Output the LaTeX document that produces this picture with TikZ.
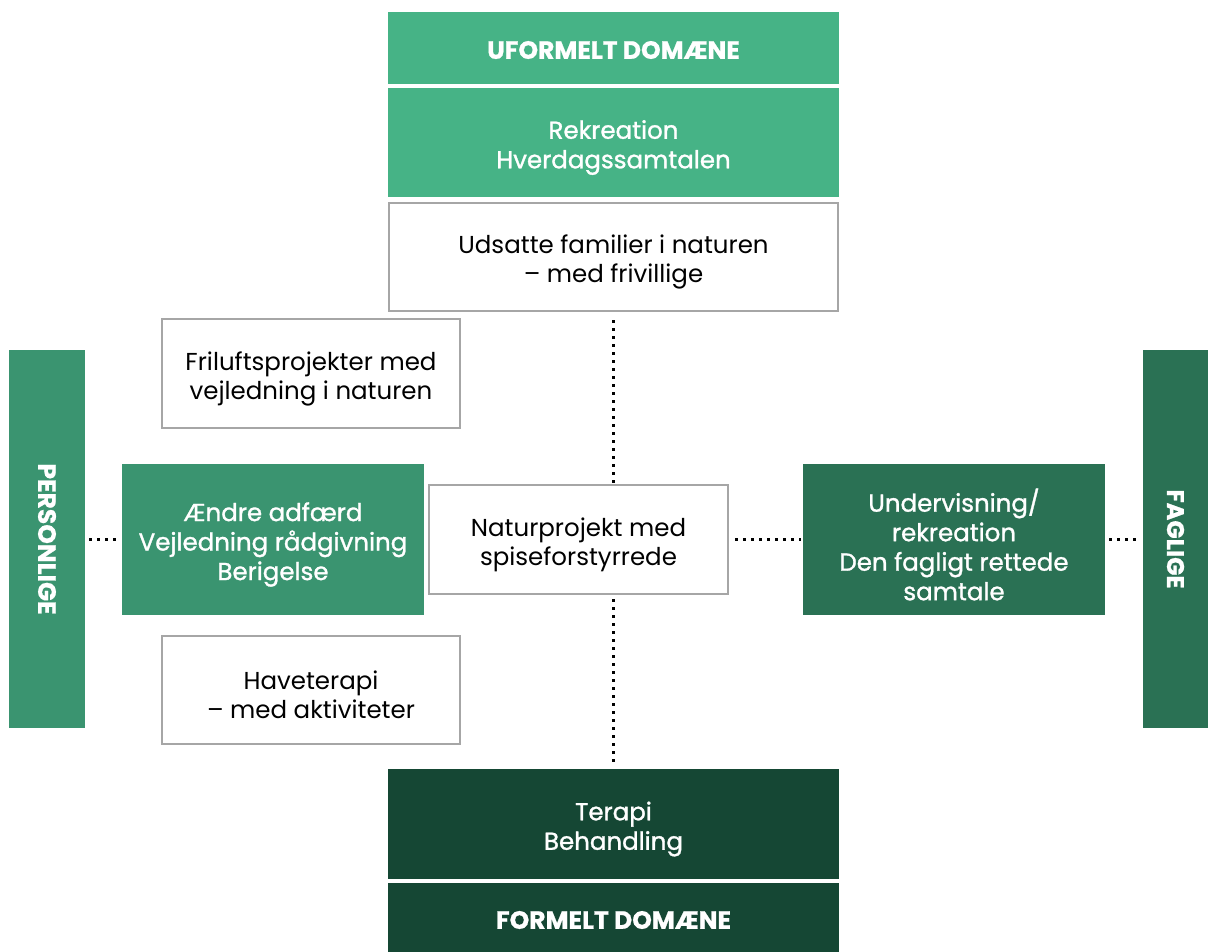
\documentclass[tikz,border=0pt]{standalone}
\usepackage{fontspec}
\setmainfont{Poppins}
\newfontfamily\medfont{Poppins}[FakeBold=1.2]
\newfontfamily\heavyfont{Poppins}[BoldFeatures={FakeBold=0.8}]
\definecolor{gLight}{HTML}{46B386}
\definecolor{gMid}{HTML}{3A9470}
\definecolor{gDark}{HTML}{2A7154}
\definecolor{gDeep}{HTML}{154734}
\definecolor{bordergray}{HTML}{A6A6A6}
\begin{document}
\begin{tikzpicture}[x=1pt,y=-1pt,
  greenbox/.style={fill=#1,draw=none,inner sep=0},
  whitebox/.style={fill=white,draw=bordergray,line width=2.5pt,inner sep=0},
  greentext/.style={text=white,align=center,inner sep=0,font=\fontsize{24.5}{29.5}\selectfont\medfont},
  headtext/.style={text=white,align=center,inner sep=0,font=\fontsize{25}{27}\selectfont\heavyfont\bfseries},
  darktext/.style={text=black,align=center,inner sep=0,font=\fontsize{24.5}{29}\selectfont},
  dotline/.style={line width=2.4pt,dash pattern=on 2.4pt off 5.6pt,black}]
\useasboundingbox (0,0) rectangle (1208,951);
% top column
\node[greenbox=gLight,minimum width=451,minimum height=72] (uform) at (613.5,48) {};
\node[headtext] (uformT) at ([yshift=-2pt]uform.center) {UFORMELT DOMÆNE};
\node[greenbox=gLight,minimum width=451,minimum height=109] (rekr) at (613.5,142.5) {};
\node[greentext] (rekrT) at ([yshift=-5pt]rekr.center) {Rekreation\\Hverdagssamtalen};
\node[whitebox,minimum width=449,minimum height=108] (uds) at (613.5,257) {};
\node[darktext] (udsT) at ([yshift=-5pt]uds.center) {Udsatte familier i naturen\\– med frivillige};
% left column
\node[whitebox,minimum width=298,minimum height=109] (fril) at (311,373.5) {};
\node[darktext] (frilT) at ([yshift=-5pt]fril.center) {Friluftsprojekter med\\vejledning i naturen};
\node[greenbox=gMid,minimum width=302,minimum height=151] (aendre) at (273,539.5) {};
\node[greentext] (aendreT) at ([yshift=-5pt]aendre.center) {Ændre adfærd\\Vejledning rådgivning\\Berigelse};
\node[whitebox,minimum width=298,minimum height=108] (have) at (311,690) {};
\node[darktext] (haveT) at ([yshift=-5pt]have.center) {Haveterapi\\– med aktiviteter};
% center
\node[whitebox,minimum width=299,minimum height=109] (natur) at (578.5,539.5) {};
\node[darktext] (naturT) at ([yshift=-5pt]natur.center) {Naturprojekt med\\spiseforstyrrede};
% right
\node[greenbox=gDark,minimum width=302,minimum height=151] (underv) at (954,539.5) {};
\node[greentext] (undervT) at ([yshift=-5pt]underv.center) {Undervisning/\\rekreation\\Den fagligt rettede\\samtale};
% side bars
\node[greenbox=gMid,minimum width=76,minimum height=378] (pers) at (47,539) {};
\node[rotate=-90,headtext,font=\fontsize{25}{25}\selectfont\heavyfont\bfseries] (persT) at (pers.center) {PERSONLIGE};
\node[greenbox=gDark,minimum width=65,minimum height=378] (fag) at (1175.5,539) {};
\node[rotate=-90,headtext,font=\fontsize{24}{25}\selectfont\heavyfont\bfseries] (fagT) at (fag.center) {FAGLIGE};
% bottom column
\node[greenbox=gDeep,minimum width=451,minimum height=110] (terapi) at (613.5,824) {};
\node[greentext] (terapiT) at ([yshift=-5pt]terapi.center) {Terapi\\Behandling};
\node[greenbox=gDeep,minimum width=451,minimum height=70] (form) at (613.5,918) {};
\node[headtext] (formT) at ([yshift=-2pt]form.center) {FORMELT DOMÆNE};
% dotted connectors
\draw[dotline] ([yshift=-8pt]uds.south -| terapi.north) -- ([xshift=35pt]natur.north);
\draw[dotline] ([xshift=35pt,yshift=-4pt]natur.south) -- ([yshift=4pt]terapi.north);
\draw[dotline] ([xshift=4pt]pers.east |- aendre.west) -- ([xshift=-2pt]aendre.west);
\draw[dotline] ([xshift=6pt]natur.east) -- ([xshift=-2pt]underv.west);
\draw[dotline] ([xshift=4pt]underv.east) -- ([xshift=-2pt]fag.west |- underv.east);
\end{tikzpicture}
\end{document}
